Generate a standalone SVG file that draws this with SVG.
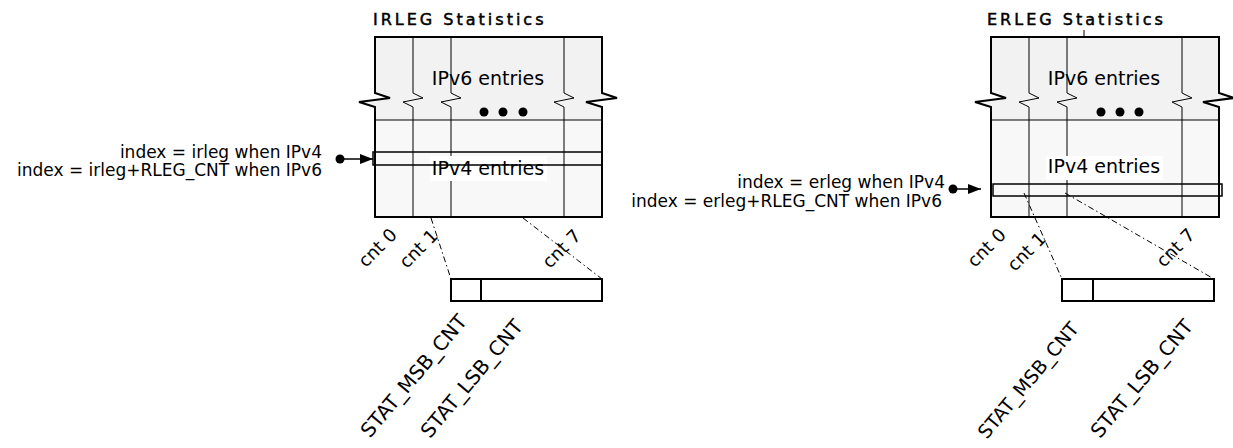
<svg xmlns="http://www.w3.org/2000/svg" width="1233" height="448" viewBox="0 0 1233 448">
<style>
text{font-family:"DejaVu Sans",Verdana,sans-serif;fill:#000}
.title{font-size:16px;letter-spacing:3px;stroke:#000;stroke-width:0.5}
.entry{font-size:19px;text-anchor:middle}
.lbl{font-size:17px;text-anchor:end}
.cnt{font-size:18px;text-anchor:end}
.stat{font-size:20px;text-anchor:end}
.edge{fill:none;stroke:#000;stroke-width:2}
.col{fill:none;stroke:#000;stroke-width:1}
.top{fill:#f2f2f2}
.low{fill:#f8f8f8}
.sep{stroke:#000;stroke-width:1}
.row{fill:none;stroke:#000;stroke-width:1.5}
.bg{fill:#fff}
.box{fill:#fff;stroke:#000;stroke-width:2}
.div{stroke:#000;stroke-width:2}
.dd{fill:none;stroke:#000;stroke-width:1;stroke-dasharray:6 3 1.5 3}
.ptr{stroke:#000;stroke-width:1.5;marker-end:url(#ah)}
.dot{fill:#000}
</style>
<defs>
<marker id="ah" markerWidth="13" markerHeight="10" refX="13" refY="5" orient="auto" markerUnits="userSpaceOnUse"><path d="M0,0 L13,5 L0,10 Z" fill="#000"/></marker>
</defs>

<g id="irleg-table">
<text class="title" x="373" y="25">IRLEG Statistics</text>
<path class="top" d="M375,37 H602 V93 L617,98 L586,102 L602,107 V120 H375 V107 L359,102 L390,98 L375,93 Z"/>
<rect class="low" x="375" y="120" width="227" height="97"/>
<line class="sep" x1="375" y1="120" x2="602" y2="120"/>
<path class="col" d="M413,37 V93 L423,98 L403,102 L413,107 V217"/>
<path class="col" d="M451,37 V93 L461,98 L441,102 L451,107 V217"/>
<path class="col" d="M564,37 V93 L574,98 L554,102 L564,107 V217"/>
<path class="edge" d="M375,93 V37 H602 V93 L617,98 L586,102 L602,107 V217 H375 V107 L359,102 L390,98 Z"/>
<text class="entry" x="488" y="85">IPv6 entries</text>
<circle class="dot" cx="484" cy="112" r="4.5"/>
<circle class="dot" cx="503" cy="112" r="4.5"/>
<circle class="dot" cx="523" cy="112" r="4.5"/>
<rect class="bg" x="430" y="156" width="117" height="25"/>
<text class="entry" x="488" y="175">IPv4 entries</text>
<rect class="row" x="373" y="152" width="229" height="13"/>
<text class="cnt" transform="translate(398,236) rotate(-45)">cnt 0</text>
<text class="cnt" transform="translate(439,237) rotate(-45)">cnt 1</text>
<text class="cnt" transform="translate(582,237) rotate(-45)">cnt 7</text>
</g>

<g id="irleg-index">
<text class="lbl" x="322" y="158">index = irleg when IPv4</text>
<text class="lbl" x="322" y="176">index = irleg+RLEG_CNT when IPv6</text>
</g>

<g id="irleg-counter">
<rect class="box" x="451" y="279" width="151" height="22"/>
<line class="div" x1="481" y1="279" x2="481" y2="301"/>
<text class="stat" transform="translate(468,322) rotate(-50)">STAT_MSB_CNT</text>
<text class="stat" transform="translate(524,327) rotate(-50)">STAT_LSB_CNT</text>
</g>

<g id="erleg-table">
<text class="title" x="987" y="25">ERLEG Statistics</text>
<line class="col" x1="1084" y1="30" x2="1084" y2="37"/>
<path class="top" d="M991,37 H1219 V93 L1234,98 L1203,102 L1219,107 V120 H991 V107 L975,102 L1006,98 L991,93 Z"/>
<rect class="low" x="991" y="120" width="228" height="97"/>
<line class="sep" x1="991" y1="120" x2="1219" y2="120"/>
<path class="col" d="M1029,37 V93 L1039,98 L1019,102 L1029,107 V217"/>
<path class="col" d="M1067,37 V93 L1077,98 L1057,102 L1067,107 V217"/>
<path class="col" d="M1182,37 V93 L1192,98 L1172,102 L1182,107 V217"/>
<path class="edge" d="M991,93 V37 H1219 V93 L1234,98 L1203,102 L1219,107 V217 H991 V107 L975,102 L1006,98 Z"/>
<text class="entry" x="1104" y="85">IPv6 entries</text>
<circle class="dot" cx="1101" cy="112" r="4.5"/>
<circle class="dot" cx="1120" cy="112" r="4.5"/>
<circle class="dot" cx="1139" cy="112" r="4.5"/>
<rect class="bg" x="1046" y="156" width="117" height="24"/>
<text class="entry" x="1104" y="173">IPv4 entries</text>
<rect class="row" x="993" y="184" width="229" height="12"/>
<text class="cnt" transform="translate(1007,236) rotate(-45)">cnt 0</text>
<text class="cnt" transform="translate(1047,240) rotate(-45)">cnt 1</text>
<text class="cnt" transform="translate(1196,236) rotate(-45)">cnt 7</text>
</g>

<g id="erleg-index">
<text class="lbl" x="945" y="188">index = erleg when IPv4</text>
<text class="lbl" x="942" y="207">index = erleg+RLEG_CNT when IPv6</text>
</g>

<g id="erleg-counter">
<rect class="box" x="1062" y="279" width="152" height="22"/>
<line class="div" x1="1093" y1="279" x2="1093" y2="301"/>
<text class="stat" style="font-size:19px" transform="translate(1080,329) rotate(-50)">STAT_MSB_CNT</text>
<text class="stat" transform="translate(1194,327) rotate(-50)">STAT_LSB_CNT</text>
</g>

<g id="connectors">
<circle class="dot" cx="340" cy="159" r="4.5"/>
<line class="ptr" x1="340" y1="159" x2="373" y2="159"/>
<circle class="dot" cx="953" cy="189" r="4.5"/>
<line class="ptr" x1="953" y1="189" x2="981" y2="189"/>
<line class="dd" x1="431" y1="218" x2="451" y2="279"/>
<line class="dd" x1="523" y1="218" x2="602" y2="279"/>
<line class="dd" x1="1024" y1="193" x2="1062" y2="279"/>
<line class="dd" x1="1065" y1="193" x2="1214" y2="279"/>
</g>
</svg>
